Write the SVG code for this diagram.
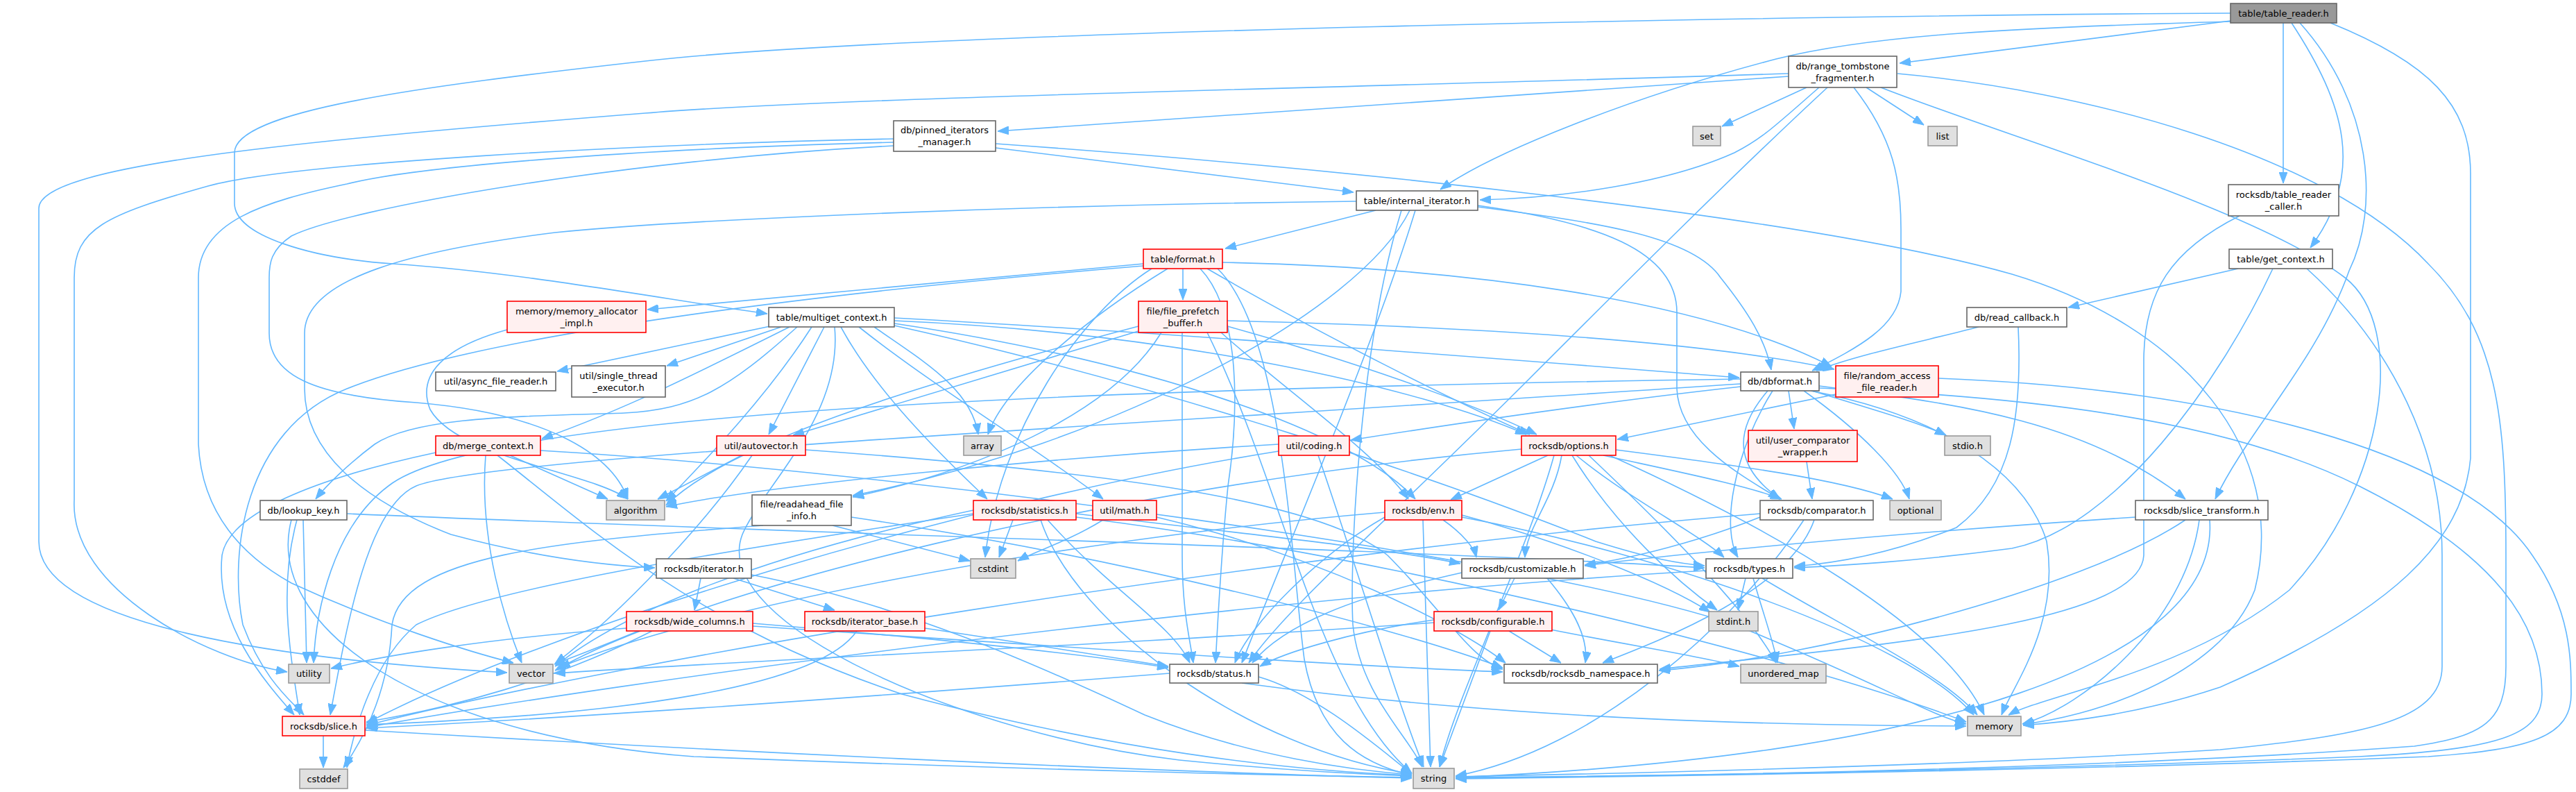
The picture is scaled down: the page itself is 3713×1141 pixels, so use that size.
<svg xmlns="http://www.w3.org/2000/svg" width="3713" height="1141" viewBox="0 0 3713 1141">
<style>
.n rect{stroke-width:1.6}
.w rect{fill:#ffffff;stroke:#666666}
.r rect{fill:#fff0f0;stroke:#ff0000}
.g rect{fill:#e0e0e0;stroke:#999999}
.root rect{fill:#999999;stroke:#666666}
text{font-family:"DejaVu Sans",sans-serif;font-size:13px;text-anchor:middle;fill:#000000}
.e path{fill:none;stroke:#63b8ff;stroke-width:1.6;marker-end:url(#a)}
</style>
<defs>
<marker id="a" markerUnits="userSpaceOnUse" markerWidth="16" markerHeight="12" refX="16" refY="6" orient="auto">
<path d="M0,0 L16,6 L0,12 z" fill="#63b8ff" stroke="#63b8ff" stroke-width="1"/>
</marker>
</defs>
<rect width="3713" height="1141" fill="#ffffff"/>
<g id="edges" class="e">
<path d="M3215,30 L2738,91"/>
<path d="M3215,19 C2600,22 1300,45 930,88 C600,125 338,160 338,220 L338,293 C338,340 450,372 566,380 C750,392 950,430 1106,452"/>
<path d="M3215,31 C2900,40 2700,50 2560,85 C2350,140 2150,220 2076,273"/>
<path d="M3291,33 L3291,264"/>
<path d="M3303,33 C3380,150 3410,250 3330,357"/>
<path d="M3315,33 C3420,150 3430,300 3386,390 C3340,520 3240,620 3193,719"/>
<path d="M3359,33 C3500,90 3561,150 3561,250 L3561,660 C3550,780 3450,880 3200,990 C3080,1030 2980,1040 2916,1045"/>
<path d="M2604,126 L2482,182"/>
<path d="M2690,126 L2773,180"/>
<path d="M2622,126 C2560,180 2540,200 2500,220 C2400,265 2250,285 2133,288"/>
<path d="M2578,110 L1438,189"/>
<path d="M2578,106 C2000,125 1200,140 930,163 C400,205 56,240 56,300 L56,780 C56,900 400,950 731,969"/>
<path d="M2634,126 C2500,250 2350,400 2200,550 C2000,750 1850,880 1800,955"/>
<path d="M2672,126 C2730,200 2740,260 2740,330 L2740,420 C2735,470 2680,500 2612,534"/>
<path d="M2711,126 C2900,200 3250,300 3380,400 C3470,470 3440,700 3300,850 C3150,970 2950,1000 2895,1030"/>
<path d="M2735,106 C3000,130 3350,220 3500,380 C3600,480 3612,600 3612,800 L3612,960 C3612,1040 3580,1060 3480,1075 C3000,1110 2400,1118 2098,1121"/>
<path d="M1435,213 L1951,277"/>
<path d="M1435,207 C1900,240 2600,310 2900,395 C3150,470 3300,650 3250,850 C3200,980 3000,1035 2916,1043"/>
<path d="M1288,200 C900,208 420,235 300,268 C150,310 107,330 107,400 L107,720 C100,850 300,950 414,968"/>
<path d="M1288,205 C900,215 600,240 500,265 C380,290 286,320 286,400 L286,640 C290,720 330,790 420,840 C550,900 680,940 740,955"/>
<path d="M1288,210 C900,230 500,300 420,340 C390,360 388,380 388,400 L388,480 C388,540 450,570 600,580 C780,595 880,650 905,719"/>
<path d="M1983,303 L1766,358"/>
<path d="M1955,290 C1500,295 1000,315 800,335 C600,360 439,400 439,480 L439,560 C439,650 520,720 650,770 C780,805 880,815 944,818"/>
<path d="M2032,303 C1960,450 1600,640 1229,714"/>
<path d="M2130,298 C2300,320 2440,340 2480,400 C2520,450 2545,490 2553,533"/>
<path d="M2130,296 C2300,320 2417,360 2417,450 L2417,560 C2420,640 2520,690 2565,719"/>
<path d="M2040,303 C1980,500 1850,800 1790,955"/>
<path d="M2020,303 C1960,500 1945,800 1950,900 C1960,1000 2030,1060 2050,1105"/>
<path d="M3228,311 C3130,360 3090,420 3090,520 L3090,800 C3085,900 2700,930 2392,964"/>
<path d="M1648,380 L933,446"/>
<path d="M1705,387 L1705,432"/>
<path d="M1683,387 C1580,450 1450,550 1424,626"/>
<path d="M1660,387 C1560,450 1440,620 1420,803"/>
<path d="M1762,378 C2100,385 2450,430 2640,528"/>
<path d="M1740,387 C1900,480 2100,580 2205,626"/>
<path d="M1648,383 C1200,420 700,480 500,560 C350,620 330,800 350,900 C380,980 420,1010 438,1030"/>
<path d="M1730,387 C1790,450 1785,600 1770,700 C1760,800 1755,900 1752,955"/>
<path d="M1755,387 C1850,480 1860,800 1880,950 C1900,1060 1960,1100 2035,1117"/>
<path d="M3226,387 L2981,443"/>
<path d="M3276,387 C3200,550 3050,760 2900,790 C2750,810 2650,815 2586,818"/>
<path d="M3325,387 C3450,500 3520,650 3520,800 L3520,960 C3520,1040 3400,1060 3200,1080 C2800,1105 2300,1115 2098,1119"/>
<path d="M731,475 C640,500 600,540 620,590 C660,660 850,680 905,719"/>
<path d="M1110,470 L803,535"/>
<path d="M1126,471 L961,527"/>
<path d="M1138,471 C1000,540 900,590 781,632"/>
<path d="M1149,471 C1050,560 1000,590 900,595 C750,600 600,600 540,640 C500,670 470,700 455,719"/>
<path d="M1170,471 C1100,580 1000,680 960,722"/>
<path d="M1188,471 L1108,626"/>
<path d="M1203,471 C1215,600 1100,700 1070,770 C1020,900 1400,1060 1700,1095 C1850,1110 1950,1115 2035,1118"/>
<path d="M1212,471 C1260,560 1350,650 1423,719"/>
<path d="M1238,471 C1350,560 1500,650 1590,719"/>
<path d="M1260,471 C1330,520 1400,560 1410,626"/>
<path d="M1289,458 C1700,480 2200,520 2507,544"/>
<path d="M1289,462 C1700,480 2050,560 2200,626"/>
<path d="M1289,466 C1650,520 1950,620 2040,719"/>
<path d="M1289,469 C1700,560 2100,700 2300,780 C2380,805 2420,812 2457,815"/>
<path d="M1641,477 L1143,627"/>
<path d="M1674,479 C1600,600 1400,680 1229,716"/>
<path d="M1769,462 C2100,470 2450,490 2644,532"/>
<path d="M1760,479 C1850,560 1980,650 2030,719"/>
<path d="M1769,470 C1950,520 2120,580 2215,626"/>
<path d="M1641,470 C1300,560 1050,640 960,728"/>
<path d="M1740,479 C1850,700 1900,1000 2035,1114"/>
<path d="M1704,479 L1704,800 C1704,880 1715,920 1720,955"/>
<path d="M2852,471 C2780,490 2680,510 2618,534"/>
<path d="M2909,471 C2915,600 2900,700 2820,760 C2720,800 2640,812 2586,816"/>
<path d="M2578,563 L2586,618"/>
<path d="M2548,563 C2490,630 2510,680 2566,719"/>
<path d="M2600,563 C2680,620 2740,680 2752,719"/>
<path d="M2612,563 C2700,590 2770,610 2805,627"/>
<path d="M2622,556 C2800,580 3000,600 3150,719"/>
<path d="M2610,563 C2800,600 2920,680 2950,780 C2970,900 2900,990 2885,1030"/>
<path d="M2555,563 C2500,650 2480,760 2505,803"/>
<path d="M2509,557 C2300,580 2100,610 1947,634"/>
<path d="M2509,553 C1500,620 700,660 600,700 C530,730 500,900 476,1030"/>
<path d="M2509,546 C1600,560 700,590 560,700 C480,760 455,880 452,955"/>
<path d="M2622,559 C2900,570 3200,600 3400,700 C3600,800 3664,900 3664,1000 C3664,1060 3600,1080 3400,1090 C2900,1110 2400,1118 2098,1120"/>
<path d="M2646,568 L2331,633"/>
<path d="M2794,545 C3200,560 3550,650 3650,800 C3706,880 3706,950 3706,1000 C3706,1060 3650,1080 3500,1090 C3000,1110 2400,1118 2098,1122"/>
<path d="M735,656 L876,719"/>
<path d="M700,656 C690,780 730,900 752,955"/>
<path d="M628,652 C450,690 330,740 320,800 C310,900 380,980 424,1030"/>
<path d="M717,656 C850,760 1000,900 1300,1000 C1600,1080 1850,1110 2035,1117"/>
<path d="M779,649 C1300,680 2200,800 2500,900 C2700,980 2780,1030 2834,1043"/>
<path d="M1069,656 L948,719"/>
<path d="M1084,656 C1020,750 900,880 800,956"/>
<path d="M1161,648 C1600,680 1900,720 2000,800 C2080,880 2120,950 2166,964"/>
<path d="M1843,640 C1500,660 1100,700 960,730"/>
<path d="M1843,650 C1400,720 800,900 528,1042"/>
<path d="M1900,656 C1950,800 2010,1000 2052,1105"/>
<path d="M2231,656 L2091,720"/>
<path d="M2329,648 C2500,670 2650,690 2728,719"/>
<path d="M2311,656 C2420,680 2520,700 2568,719"/>
<path d="M2251,656 C2240,720 2200,760 2198,803"/>
<path d="M2272,656 C2350,720 2450,770 2485,803"/>
<path d="M2266,656 C2330,760 2420,840 2475,879"/>
<path d="M2290,656 C2400,760 2520,880 2560,955"/>
<path d="M2320,656 C2550,760 2800,900 2860,1030"/>
<path d="M2240,656 C2200,800 2100,1000 2075,1105"/>
<path d="M2193,647 C1600,700 1000,850 800,966"/>
<path d="M2604,665 L2612,719"/>
<path d="M437,749 L442,955"/>
<path d="M428,749 C400,850 420,950 432,1030"/>
<path d="M500,740 C1200,770 2000,790 2457,818"/>
<path d="M420,749 C380,900 600,1060 1000,1090 C1500,1110 1900,1118 2035,1120"/>
<path d="M1100,757 C800,780 580,800 565,900 C560,1000 520,1070 495,1106"/>
<path d="M1200,757 L1398,808"/>
<path d="M1227,745 C1600,800 2000,900 2166,962"/>
<path d="M1460,749 L1440,803"/>
<path d="M1403,740 C1000,800 700,850 600,900 C540,950 510,1050 500,1106"/>
<path d="M1551,745 C2000,800 2600,950 2834,1040"/>
<path d="M1500,749 C1550,900 1800,1080 2035,1115"/>
<path d="M1403,735 C1100,800 900,880 800,960"/>
<path d="M1551,740 C1800,770 2000,790 2105,812"/>
<path d="M1510,749 C1600,850 1690,900 1715,955"/>
<path d="M1590,749 C1540,780 1490,795 1467,808"/>
<path d="M1667,745 C1900,800 2100,900 2170,955"/>
<path d="M2051,749 L2062,1105"/>
<path d="M2080,749 C2110,770 2125,790 2128,803"/>
<path d="M2107,742 C2250,780 2400,840 2465,882"/>
<path d="M2107,745 C2400,800 2750,920 2845,1030"/>
<path d="M1996,738 C1500,780 1000,880 806,962"/>
<path d="M1996,745 C1900,800 1800,900 1780,955"/>
<path d="M2537,745 C2450,780 2350,805 2284,814"/>
<path d="M2615,749 C2580,850 2400,920 2310,955"/>
<path d="M2600,749 C2500,900 2300,1080 2098,1118"/>
<path d="M2537,740 C1800,800 900,950 528,1045"/>
<path d="M3078,745 C2700,770 2400,800 2284,815"/>
<path d="M3150,749 C3000,850 2600,950 2391,966"/>
<path d="M3170,749 C3150,900 3000,1020 2915,1043"/>
<path d="M3185,749 C3200,950 2800,1090 2098,1120"/>
<path d="M1010,833 L1001,879"/>
<path d="M1057,833 L1203,879"/>
<path d="M1083,828 C1300,870 1500,960 1650,1030 C1800,1090 1950,1110 2035,1116"/>
<path d="M2183,833 L2160,879"/>
<path d="M2107,825 C1950,860 1850,900 1805,955"/>
<path d="M2230,833 C2270,880 2290,920 2285,955"/>
<path d="M2516,833 L2505,879"/>
<path d="M2527,833 C2540,880 2555,920 2562,955"/>
<path d="M2540,833 C2650,900 2800,970 2850,1030"/>
<path d="M2459,822 C1800,860 900,980 528,1048"/>
<path d="M903,905 C700,920 550,945 477,963"/>
<path d="M920,909 C870,930 830,945 799,957"/>
<path d="M940,909 C800,980 650,1020 528,1040"/>
<path d="M1085,898 C1350,920 1550,940 1684,962"/>
<path d="M1085,902 C1500,930 1950,960 2166,968"/>
<path d="M1235,909 C1180,990 900,1030 528,1044"/>
<path d="M1333,905 C1500,930 1620,950 1684,960"/>
<path d="M2148,909 L2075,1105"/>
<path d="M2175,909 L2250,955"/>
<path d="M2230,906 C2350,930 2450,945 2507,960"/>
<path d="M2067,897 C1600,930 1100,950 799,970"/>
<path d="M2067,893 C1950,910 1850,940 1816,960"/>
<path d="M1686,970 C1300,1000 900,1030 528,1049"/>
<path d="M1814,975 C1900,1000 1990,1080 2035,1115"/>
<path d="M1790,984 C2200,1040 2600,1045 2834,1046"/>
<path d="M466,1060 L466,1106"/>
<path d="M526,1052 C1000,1080 1600,1110 2035,1121"/>
</g>
<g id="n1" class="n root"><rect x="3215" y="5" width="153" height="28"/><text x="3291.5" y="23.5">table/table_reader.h</text></g>
<g id="n2" class="n w"><rect x="2578" y="81" width="156" height="45"/><text x="2656" y="99.5">db/range_tombstone</text><text x="2656" y="116.5">_fragmenter.h</text></g>
<g id="n3" class="n w"><rect x="1288" y="174" width="147" height="44"/><text x="1361.5" y="192">db/pinned_iterators</text><text x="1361.5" y="209">_manager.h</text></g>
<g id="n4" class="n g"><rect x="2440" y="182" width="40" height="28"/><text x="2460" y="200.5">set</text></g>
<g id="n5" class="n g"><rect x="2779" y="182" width="42" height="28"/><text x="2800" y="200.5">list</text></g>
<g id="n6" class="n w"><rect x="1955" y="275" width="175" height="28"/><text x="2042.5" y="293.5">table/internal_iterator.h</text></g>
<g id="n7" class="n w"><rect x="3212" y="266" width="159" height="45"/><text x="3291.5" y="284.5">rocksdb/table_reader</text><text x="3291.5" y="301.5">_caller.h</text></g>
<g id="n8" class="n r"><rect x="1648" y="359" width="114" height="28"/><text x="1705" y="377.5">table/format.h</text></g>
<g id="n9" class="n w"><rect x="3213" y="359" width="149" height="28"/><text x="3287.5" y="377.5">table/get_context.h</text></g>
<g id="n10" class="n r"><rect x="731" y="434" width="200" height="45"/><text x="831" y="452.5">memory/memory_allocator</text><text x="831" y="469.5">_impl.h</text></g>
<g id="n11" class="n w"><rect x="1108" y="443" width="181" height="28"/><text x="1198.5" y="461.5">table/multiget_context.h</text></g>
<g id="n12" class="n r"><rect x="1641" y="434" width="128" height="45"/><text x="1705" y="452.5">file/file_prefetch</text><text x="1705" y="469.5">_buffer.h</text></g>
<g id="n13" class="n w"><rect x="2835" y="443" width="144" height="28"/><text x="2907" y="461.5">db/read_callback.h</text></g>
<g id="n14" class="n w"><rect x="628" y="536" width="173" height="27"/><text x="714.5" y="554">util/async_file_reader.h</text></g>
<g id="n15" class="n w"><rect x="824" y="527" width="135" height="45"/><text x="891.5" y="545.5">util/single_thread</text><text x="891.5" y="562.5">_executor.h</text></g>
<g id="n16" class="n w"><rect x="2509" y="536" width="113" height="27"/><text x="2565.5" y="554">db/dbformat.h</text></g>
<g id="n17" class="n r"><rect x="2646" y="527" width="148" height="45"/><text x="2720" y="545.5">file/random_access</text><text x="2720" y="562.5">_file_reader.h</text></g>
<g id="n18" class="n r"><rect x="628" y="628" width="151" height="28"/><text x="703.5" y="646.5">db/merge_context.h</text></g>
<g id="n19" class="n r"><rect x="1033" y="628" width="128" height="28"/><text x="1097" y="646.5">util/autovector.h</text></g>
<g id="n20" class="n g"><rect x="1389" y="628" width="54" height="28"/><text x="1416" y="646.5">array</text></g>
<g id="n21" class="n r"><rect x="1843" y="628" width="102" height="28"/><text x="1894" y="646.5">util/coding.h</text></g>
<g id="n22" class="n r"><rect x="2193" y="628" width="136" height="28"/><text x="2261" y="646.5">rocksdb/options.h</text></g>
<g id="n23" class="n r"><rect x="2520" y="620" width="157" height="45"/><text x="2598.5" y="638.5">util/user_comparator</text><text x="2598.5" y="655.5">_wrapper.h</text></g>
<g id="n24" class="n g"><rect x="2803" y="628" width="66" height="28"/><text x="2836" y="646.5">stdio.h</text></g>
<g id="n25" class="n w"><rect x="375" y="721" width="125" height="28"/><text x="437.5" y="739.5">db/lookup_key.h</text></g>
<g id="n26" class="n g"><rect x="874" y="721" width="84" height="28"/><text x="916" y="739.5">algorithm</text></g>
<g id="n27" class="n w"><rect x="1084" y="713" width="143" height="44"/><text x="1155.5" y="731">file/readahead_file</text><text x="1155.5" y="748">_info.h</text></g>
<g id="n28" class="n r"><rect x="1403" y="721" width="148" height="28"/><text x="1477" y="739.5">rocksdb/statistics.h</text></g>
<g id="n29" class="n r"><rect x="1575" y="721" width="92" height="28"/><text x="1621" y="739.5">util/math.h</text></g>
<g id="n30" class="n r"><rect x="1996" y="721" width="111" height="28"/><text x="2051.5" y="739.5">rocksdb/env.h</text></g>
<g id="n31" class="n w"><rect x="2537" y="721" width="163" height="28"/><text x="2618.5" y="739.5">rocksdb/comparator.h</text></g>
<g id="n32" class="n g"><rect x="2724" y="721" width="74" height="28"/><text x="2761" y="739.5">optional</text></g>
<g id="n33" class="n w"><rect x="3078" y="721" width="191" height="28"/><text x="3173.5" y="739.5">rocksdb/slice_transform.h</text></g>
<g id="n34" class="n w"><rect x="946" y="805" width="137" height="28"/><text x="1014.5" y="823.5">rocksdb/iterator.h</text></g>
<g id="n35" class="n g"><rect x="1399" y="805" width="65" height="28"/><text x="1431.5" y="823.5">cstdint</text></g>
<g id="n36" class="n w"><rect x="2107" y="805" width="175" height="28"/><text x="2194.5" y="823.5">rocksdb/customizable.h</text></g>
<g id="n37" class="n w"><rect x="2459" y="805" width="125" height="28"/><text x="2521.5" y="823.5">rocksdb/types.h</text></g>
<g id="n38" class="n r"><rect x="903" y="881" width="182" height="28"/><text x="994" y="899.5">rocksdb/wide_columns.h</text></g>
<g id="n39" class="n r"><rect x="1160" y="881" width="173" height="28"/><text x="1246.5" y="899.5">rocksdb/iterator_base.h</text></g>
<g id="n40" class="n r"><rect x="2067" y="881" width="170" height="28"/><text x="2152" y="899.5">rocksdb/configurable.h</text></g>
<g id="n41" class="n g"><rect x="2463" y="881" width="71" height="28"/><text x="2498.5" y="899.5">stdint.h</text></g>
<g id="n42" class="n g"><rect x="416" y="957" width="59" height="27"/><text x="445.5" y="975">utility</text></g>
<g id="n43" class="n g"><rect x="734" y="957" width="63" height="27"/><text x="765.5" y="975">vector</text></g>
<g id="n44" class="n w"><rect x="1686" y="957" width="128" height="27"/><text x="1750" y="975">rocksdb/status.h</text></g>
<g id="n45" class="n w"><rect x="2168" y="957" width="221" height="27"/><text x="2278.5" y="975">rocksdb/rocksdb_namespace.h</text></g>
<g id="n46" class="n g"><rect x="2509" y="957" width="123" height="27"/><text x="2570.5" y="975">unordered_map</text></g>
<g id="n47" class="n r"><rect x="407" y="1032" width="119" height="28"/><text x="466.5" y="1050.5">rocksdb/slice.h</text></g>
<g id="n48" class="n g"><rect x="2836" y="1032" width="77" height="28"/><text x="2874.5" y="1050.5">memory</text></g>
<g id="n49" class="n g"><rect x="432" y="1108" width="69" height="28"/><text x="466.5" y="1126.5">cstddef</text></g>
<g id="n50" class="n g"><rect x="2037" y="1107" width="59" height="29"/><text x="2066.5" y="1126">string</text></g>
</svg>
